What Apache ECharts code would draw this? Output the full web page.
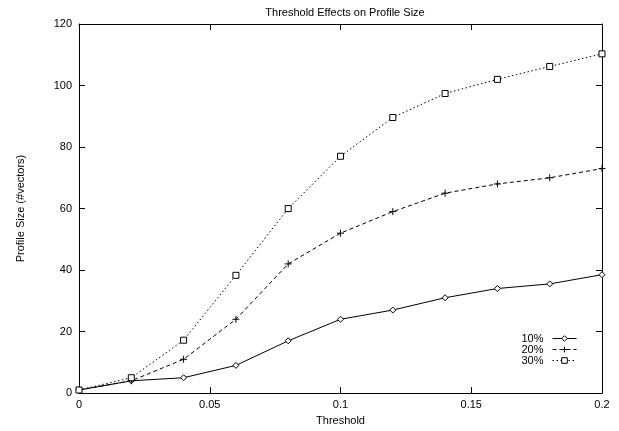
<!DOCTYPE html>
<html>
<head>
<meta charset="utf-8">
<script src="https://cdn.jsdelivr.net/npm/echarts@6/dist/echarts.min.js"></script>
<style>
  html, body { margin: 0; padding: 0; background: #fff; }
</style>
</head>
<body>
<div id="e1" style="width: 619px; height: 431px"></div>
<script>
  // thresholds
  var thresholds = [0, 0.02, 0.04, 0.06, 0.08, 0.1, 0.12, 0.14, 0.16, 0.18, 0.2];
  // profile size per sampling rate
  var p10 = [1, 4, 5, 9, 17, 24, 27, 31, 34, 35.5, 38.5];
  var p20 = [1, 4, 11, 24, 42, 52, 59, 65, 68, 70, 73];
  var p30 = [1, 5, 17.2, 38.3, 60, 77, 89.6, 97.4, 102, 106.2, 110.3];
  var seriesNames = ['10%', '20%', '30%'];
  var xTicks = [0, 0.05, 0.1, 0.15, 0.2];

  function pairs(ys) {
    var out = [];
    for (var i in thresholds) {
      out.push([thresholds[i], ys[i]]);
    }
    return out;
  }

  var font = 'Liberation Sans, Arial, sans-serif';
  var myChart = echarts.init(document.getElementById('e1'));

  var tickStyle = { show: true, inside: true, length: 6, lineStyle: { color: '#000', width: 1 } };

  var option = {
    backgroundColor: '#fff',
    animation: false,
    title: {
      text: 'Threshold Effects on Profile Size',
      left: 340,
      textAlign: 'center',
      top: 2,
      textStyle: { fontSize: 11, fontWeight: 'normal', color: '#000', fontFamily: font }
    },
    legend: {
      data: seriesNames,
      orient: 'vertical',
      align: 'right',
      right: 42,
      top: 333,
      padding: 0,
      itemWidth: 24,
      itemHeight: 7,
      itemGap: 0,
      itemStyle: { borderWidth: 1 },
      lineStyle: { width: 1 },
      textStyle: { fontSize: 11, lineHeight: 10, color: '#000', fontFamily: font, padding: [0, 4, 0, 0] }
    },
    grid: { left: 79, right: 17, top: 24, bottom: 32 },
    xAxis: [
      {
        type: 'value',
        min: 0,
        max: 0.2,
        interval: 0.05,
        name: 'Threshold',
        nameLocation: 'middle',
        nameGap: 17,
        nameTextStyle: { fontSize: 11, color: '#000', fontFamily: font },
        axisLine: { show: true, onZero: false, lineStyle: { color: '#000', width: 1 } },
        axisTick: tickStyle,
        axisLabel: {
          color: '#000', fontSize: 11, fontFamily: font, margin: 6,
          formatter: function (v) {
            for (var i in xTicks) { if (Math.abs(v - xTicks[i]) < 1e-9) return String(xTicks[i]); }
            return '';
          }
        },
        splitLine: { show: false }
      },
      {
        type: 'value',
        position: 'top',
        min: 0,
        max: 0.2,
        interval: 0.05,
        axisLine: { show: true, onZero: false, lineStyle: { color: '#000', width: 1 } },
        axisTick: tickStyle,
        axisLabel: { show: false },
        splitLine: { show: false }
      }
    ],
    yAxis: [
      {
        type: 'value',
        min: 0,
        max: 120,
        interval: 20,
        name: 'Profile Size (#vectors)',
        nameLocation: 'middle',
        nameGap: 53,
        nameTextStyle: { fontSize: 11, color: '#000', fontFamily: font },
        axisLine: { show: true, onZero: false, lineStyle: { color: '#000', width: 1 } },
        axisTick: tickStyle,
        axisLabel: { color: '#000', fontSize: 11, fontFamily: font, margin: 7 },
        splitLine: { show: false }
      },
      {
        type: 'value',
        position: 'right',
        min: 0,
        max: 120,
        interval: 20,
        axisLine: { show: true, onZero: false, lineStyle: { color: '#000', width: 1 } },
        axisTick: tickStyle,
        axisLabel: { show: false },
        splitLine: { show: false }
      }
    ],
    series: [
      {
        name: '10%',
        type: 'line',
        data: pairs(p10),
        symbol: 'diamond',
        symbolSize: 6,
        lineStyle: { color: '#000', width: 1, type: 'solid' },
        itemStyle: { color: '#fff', borderColor: '#000', borderWidth: 1 }
      },
      {
        name: '20%',
        type: 'line',
        data: pairs(p20),
        symbol: 'path://M0,5L10,5M5,0L5,10',
        symbolSize: 7,
        lineStyle: { color: '#000', width: 1, type: [4, 3] },
        itemStyle: { color: 'none', borderColor: '#000', borderWidth: 1 }
      },
      {
        name: '30%',
        type: 'line',
        data: pairs(p30),
        symbol: 'rect',
        symbolSize: 6,
        lineStyle: { color: '#000', width: 1, type: [1.5, 2.5] },
        itemStyle: { color: '#fff', borderColor: '#000', borderWidth: 1 }
      }
    ]
  };
  myChart.setOption(option);
</script>
</body>
</html>
